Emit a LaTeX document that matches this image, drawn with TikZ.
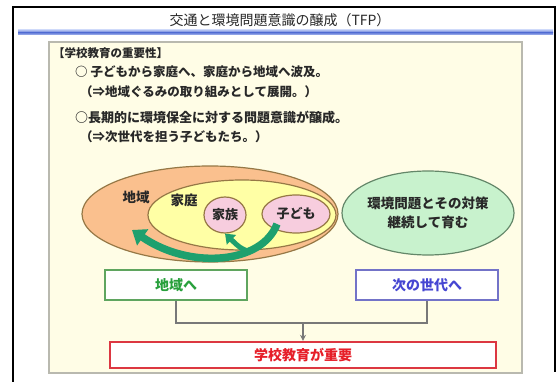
\documentclass[tikz,border=0pt]{standalone}
\usepackage{fontspec}
\newfontfamily\jp{Noto Sans CJK JP}
\usetikzlibrary{arrows.meta,shapes.geometric}
\definecolor{panelfill}{RGB}{255,253,230}
\definecolor{panelline}{RGB}{185,185,175}
\definecolor{bluebar}{RGB}{95,120,215}
\definecolor{bluebarlight}{RGB}{175,190,240}
\definecolor{orangefill}{RGB}{250,192,142}
\definecolor{yellowfill}{RGB}{255,255,165}
\definecolor{ellline}{RGB}{150,120,70}
\definecolor{pinkfill}{RGB}{247,205,222}
\definecolor{mintfill}{RGB}{200,242,205}
\definecolor{mintline}{RGB}{100,135,105}
\definecolor{arrowgreen}{RGB}{30,160,110}
\definecolor{boxgreen}{RGB}{95,165,95}
\definecolor{textgreen}{RGB}{40,160,60}
\definecolor{boxblue}{RGB}{115,115,200}
\definecolor{textblue}{RGB}{70,70,210}
\definecolor{boxred}{RGB}{220,55,65}
\definecolor{textred}{RGB}{230,30,40}
\definecolor{txt}{RGB}{40,40,40}
\definecolor{conn}{RGB}{120,120,120}
\tikzset{
  line/.style={font=\jp\bfseries\fontsize{12.5}{15}\selectfont, text=txt, anchor=west, inner sep=0},
  bubble/.style={ellipse, draw=ellline, line width=1.2, inner sep=0},
  label/.style={font=\jp\bfseries\fontsize{13.5}{15}\selectfont, text=txt, inner sep=0},
  destbox/.style={draw, line width=1.8, fill=white, minimum height=30, inner sep=0, font=\jp\bfseries\fontsize{14}{16}\selectfont},
  bigarrow/.style={draw=arrowgreen, line width=7.5, -{Triangle[width=19,length=13]}},
  smallarrow/.style={draw=arrowgreen, line width=5, -{Triangle[width=13,length=9]}}
}
\begin{document}
\begin{tikzpicture}[x=1pt,y=-1pt]
\useasboundingbox (0,0) rectangle (557,382);
\fill[white] (0,0) rectangle (557,382);
% outer frame
\draw[line width=1.6] (13,382) -- (13,7) -- (555,7) -- (555,372);
% title
\node[font=\jp\fontsize{14}{16}\selectfont, text=txt] (title) at (280,20) {交通と環境問題意識の醸成（TFP）};
\shade[top color=bluebarlight, bottom color=bluebar] (18,30) rectangle (553,32.5);
\shade[top color=bluebar, bottom color=bluebarlight] (18,32.5) rectangle (553,35);
% panel
\draw[fill=panelfill, draw=panelline, line width=1.5] (49,42) rectangle (522,373);
% text lines
\node[line, font=\jp\bfseries\fontsize{11.5}{14}\selectfont] (heading) at (53,53) {【学校教育の重要性】};
\node[line] (l1) at (75,72) {○ 子どもから家庭へ、家庭から地域へ波及。};
\node[line] (l2) at (80,92) {（⇒地域ぐるみの取り組みとして展開。）};
\node[line, font=\jp\bfseries\fontsize{13}{16}\selectfont] (l3) at (75,118) {○長期的に環境保全に対する問題意識が醸成。};
\node[line] (l4) at (80,137) {（⇒次世代を担う子どもたち。）};
% ellipses
\node[bubble, fill=orangefill, minimum width=256, minimum height=96] (region) at (210,214) {};
\node[bubble, fill=yellowfill, minimum width=188, minimum height=70] (home) at (242,215) {};
\node[bubble, fill=pinkfill, minimum width=42, minimum height=36] (family) at (225,215) {};
\node[bubble, fill=pinkfill, minimum width=68, minimum height=38] (child) at (296,214) {};
\node[label] (regionlbl) at (136,197) {地域};
\node[label] (homelbl) at (184,200) {家庭};
\node[label, font=\jp\bfseries\fontsize{13}{15}\selectfont] at (family.center) (familylbl) {家族};
\node[label, font=\jp\bfseries\fontsize{13}{15}\selectfont] at (child.center) (childlbl) {子ども};
% arrows
\coordinate (bigstart) at (277,224);
\coordinate (bigend) at (132,230);
\coordinate (smallstart) at (250,252);
\draw[bigarrow] (bigstart) .. controls (262,264) and (190,270) .. (bigend);
\draw[smallarrow] (smallstart) .. controls (240,248) .. (family.south);
% green ellipse
\node[ellipse, draw=mintline, line width=1.2, fill=mintfill, minimum width=172, minimum height=84, inner sep=0, align=center, font=\jp\bfseries\fontsize{13.5}{19}\selectfont, text=txt] (env) at (428,213) {環境問題とその対策\\継続して育む};
% destination boxes
\node[destbox, draw=boxgreen, text=textgreen, minimum width=142] (box1) at (176,285) {地域へ};
\node[destbox, draw=boxblue, text=textblue, minimum width=142] (box2) at (427,285) {次の世代へ};
\node[destbox, draw=boxred, text=textred, line width=2.4, minimum width=386, minimum height=26] (school) at (303,355) {学校教育が重要};
% connectors
\coordinate (join) at (303,323);
\draw[conn, line width=2] (box1.south) |- (join) -| (box2.south);
\draw[conn, line width=1.5, -{Stealth[length=6,width=6]}] (join) -- (join |- school.north);
\end{tikzpicture}
\end{document}
